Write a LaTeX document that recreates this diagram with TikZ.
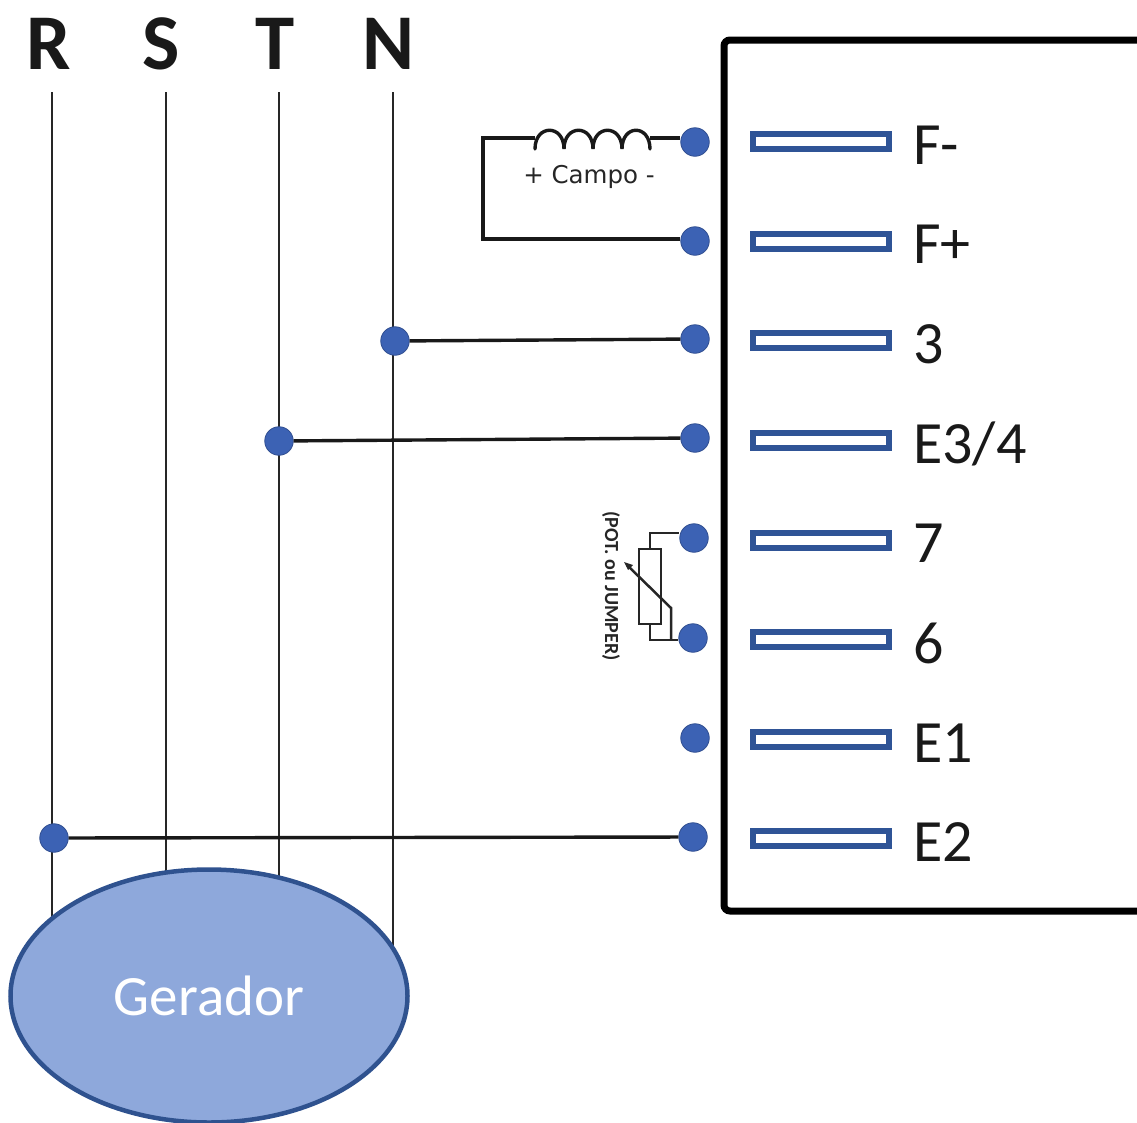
\documentclass[tikz,border=0pt]{standalone}
\usepackage{fontspec}
\usetikzlibrary{shapes.geometric}
\setmainfont{Carlito}
\newfontfamily\smallfont{DejaVu Sans}
\definecolor{dotblue}{RGB}{60,98,180}
\definecolor{barblue}{RGB}{47,84,150}
\definecolor{genfill}{RGB}{142,168,219}
\definecolor{genline}{RGB}{47,82,143}
\tikzset{
  dotnode/.style={circle,fill=dotblue,draw=dotblue!80!black,line width=0.8pt,inner sep=0pt,minimum size=28.5pt},
  barnode/.style={rectangle,draw=barblue,fill=white,line width=6pt,inner sep=0pt,minimum width=136pt,minimum height=15pt},
  termlabel/.style={anchor=west,inner sep=0pt,font=\fontsize{60}{60}\selectfont,text=black!90},
  phaselabel/.style={inner sep=0pt,font=\fontsize{79}{79}\selectfont\bfseries,text=black!90},
  phase/.style={line width=1.5pt,black!85},
  wire/.style={line width=3.4pt,black!90},
  thinwire/.style={line width=2.5pt,black!85},
}
\begin{document}
\begin{tikzpicture}[x=1pt,y=-1pt]
\useasboundingbox (0,0) rectangle (1137,1122);
% phase lines
\node[phaselabel] (R) at (49,44) {R};
\node[phaselabel] (S) at (161,44) {S};
\node[phaselabel] (T) at (275,44) {T};
\node[phaselabel] (N) at (389,44) {N};
\coordinate (Rtop) at (52,92); \coordinate (Stop) at (166,92);
\coordinate (Ttop) at (279,92); \coordinate (Ntop) at (393,92);
\coordinate (Rbot) at (52,995); \coordinate (Sbot) at (166,995);
\coordinate (Tbot) at (279,995); \coordinate (Nbot) at (393,995);
\draw[phase] (Rtop)--(Rbot);
\draw[phase] (Stop)--(Sbot);
\draw[phase] (Ttop)--(Tbot);
\draw[phase] (Ntop)--(Nbot);
% generator
\node[ellipse,draw=genline,fill=genfill,line width=4.5pt,minimum width=397pt,minimum height=253pt,inner sep=0pt,
      text=white,font=\fontsize{57}{57}\selectfont] (gen) at (209,996) {Gerador};
% box
\coordinate (boxa) at (1140,40); \coordinate (boxb) at (724,40);
\coordinate (boxc) at (724,911); \coordinate (boxd) at (1140,911);
\draw[line width=7pt,rounded corners=6pt,black] (boxa)--(boxb)--(boxc)--(boxd);
% terminals
\node[dotnode] (d1) at (695,142) {};
\node[dotnode] (d2) at (695,241) {};
\node[dotnode] (d3) at (695,339) {};
\node[dotnode] (d4) at (695,438) {};
\node[dotnode] (d5) at (694,538) {};
\node[dotnode] (d6) at (693,638) {};
\node[dotnode] (d7) at (695,738) {};
\node[dotnode] (d8) at (693,837) {};
\node[barnode] (b1) at (821,141) {};
\node[barnode] (b2) at (821,241) {};
\node[barnode] (b3) at (821,340) {};
\node[barnode] (b4) at (821,440) {};
\node[barnode] (b5) at (821,540) {};
\node[barnode] (b6) at (821,639) {};
\node[barnode] (b7) at (821,739) {};
\node[barnode] (b8) at (821,838) {};
\node[termlabel] (l1) at (913,145) {F-};
\node[termlabel] (l2) at (913,244) {F+};
\node[termlabel] (l3) at (913,344) {3};
\node[termlabel] (l4) at (913,444) {E3/4};
\node[termlabel] (l5) at (913,543) {7};
\node[termlabel] (l6) at (913,643) {6};
\node[termlabel] (l7) at (913,743) {E1};
\node[termlabel] (l8) at (913,842) {E2};
% junctions
\node[dotnode] (jN) at (395,341) {};
\node[dotnode] (jT) at (279,441) {};
\node[dotnode] (jR) at (54,838) {};
\draw[wire] (jN)--(d3);
\draw[wire] (jT)--(d4);
\draw[wire] (jR)--(d8);
% field coil
\coordinate (cl) at (535,138); \coordinate (cr) at (650,138);
\coordinate (corner1) at (483,138); \coordinate (corner2) at (483,239);
\draw[wire,line join=miter] (corner2-|d2.west)--(corner2)--(corner1)--(cl);
\draw[wire] (cr)--(cr-|d1.west);
\draw[wire,line cap=round] (535,149) .. controls (535,124) and (564,124) .. (564,149)
  .. controls (564,124) and (593,124) .. (593,149)
  .. controls (593,124) and (622,124) .. (622,149)
  .. controls (622,124) and (650,124) .. (650,149);
\node[inner sep=0pt,font=\smallfont\fontsize{24.5}{24.5}\selectfont,text=black!85] (campo) at (589,177) {+ Campo -};
% potentiometer
\node[draw=black!85,fill=white,line width=2.5pt,inner sep=0pt,minimum width=22pt,minimum height=75pt] (pot) at (650,586.5) {};
\coordinate (pa) at (650,533); \coordinate (pb) at (650,640);
\coordinate (pc) at (671,640); \coordinate (pd) at (671,608); \coordinate (pe) at (627,565);
\draw[thinwire] (pot.north)--(pa)--(pa-|d5.west);
\draw[thinwire] (pot.south)--(pb)--(pb-|d6.west);
\draw[thinwire] (pc)--(pd)--(pe);
\fill[black!85] (pe) ++(-3,-3) -- ++(9,3) -- ++(-5,5) -- cycle;
\node[rotate=-90,inner sep=0pt,font=\fontsize{20}{20}\selectfont\bfseries,text=black!85] (potlabel) at (611,586) {(POT. ou JUMPER)};
\end{tikzpicture}
\end{document}
